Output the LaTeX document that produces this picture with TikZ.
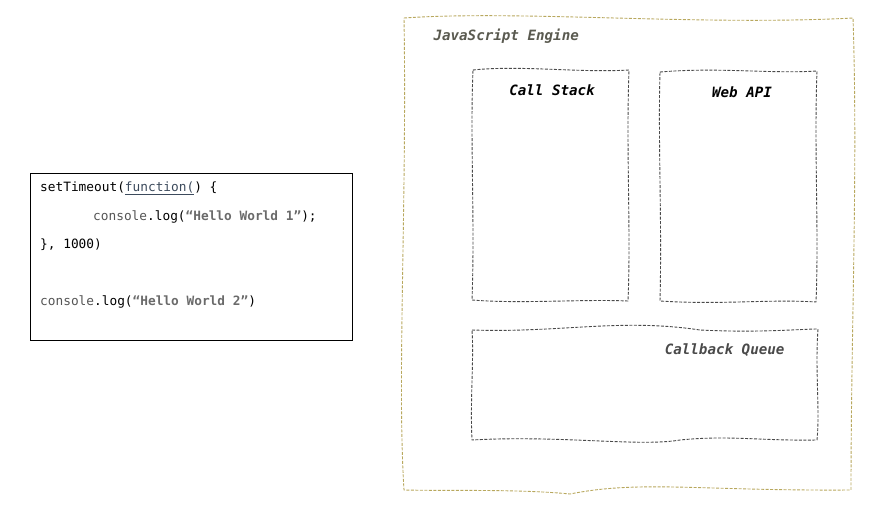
\documentclass[tikz,border=0pt]{standalone}
\usepackage{fontspec}
\setmonofont{DejaVu Sans Mono}
\usepackage{tikz}

\definecolor{enginecol}{HTML}{B8A85E}
\definecolor{boxcol}{HTML}{4A4A4A}
\definecolor{codegray}{HTML}{555555}
\definecolor{strgray}{HTML}{6A6A6A}
\definecolor{fncol}{HTML}{3C4A5C}
\definecolor{enginetext}{HTML}{5A5A50}

\begin{document}
\begin{tikzpicture}[x=1pt,y=-1pt,
  wobbly/.style={draw=boxcol,dash pattern=on 3pt off 1.5pt,line width=0.9pt},
  label/.style={font=\ttfamily\bfseries\itshape\fontsize{14.2}{17}\selectfont},
  code/.style={anchor=base west,inner sep=0pt,font=\ttfamily\fontsize{12.8}{15}\selectfont}]
\useasboundingbox (0,0) rectangle (869,508);

% code listing
\draw[line width=0.8pt] (30,173) rectangle (352,340);
\node[code] (line1) at (40,191) {setTimeout(\textcolor{fncol}{\underline{function(}}) \{};
\node[code] (line2) at (93,220) {\textcolor{codegray}{console}.log(\textcolor{strgray}{\bfseries “Hello World 1”});};
\node[code] (line3) at (40,248) {\}, 1000)};
\node[code] (line5) at (40,305) {\textcolor{codegray}{console}.log(\textcolor{strgray}{\bfseries “Hello World 2”})};

% engine
\draw[wobbly,draw=enginecol] (404,18) .. controls (520,10) and (700,26) .. (853,18)
  .. controls (858,170) and (851,330) .. (851,490)
  .. controls (700,491) and (640,480) .. (570,494) .. controls (520,489) and (450,491) .. (404,490)
  .. controls (397,380) and (407,200) .. cycle;
\node[label,text=enginetext,anchor=west] (engine) at (430,36) {JavaScript Engine};

% call stack
\draw[wobbly] (473,70) .. controls (520,65) and (580,73) .. (629,70)
  .. controls (626,150) and (631,230) .. (628,301)
  .. controls (580,299) and (520,304) .. (472,300)
  .. controls (475,220) and (470,140) .. cycle;
\node[label,text=black] (stack) at (552,90) {Call Stack};

% web api
\draw[wobbly] (660,72) .. controls (720,67) and (770,74) .. (817,71)
  .. controls (814,150) and (819,230) .. (816,302)
  .. controls (770,299) and (720,305) .. (660,301)
  .. controls (662,220) and (658,140) .. cycle;
\node[label,text=black] (webapi) at (742,92) {Web API};

% callback queue
\draw[wobbly] (472,330) .. controls (560,333) and (620,318) .. (700,330) .. controls (760,333) and (800,329) .. (818,329)
  .. controls (815,370) and (820,410) .. (817,440)
  .. controls (760,441) and (730,435) .. (680,440) .. controls (640,447) and (560,435) .. (472,440)
  .. controls (470,400) and (474,360) .. cycle;
\node[label,text=boxcol,anchor=east] (queue) at (788,350) {Callback Queue};
\end{tikzpicture}
\end{document}
